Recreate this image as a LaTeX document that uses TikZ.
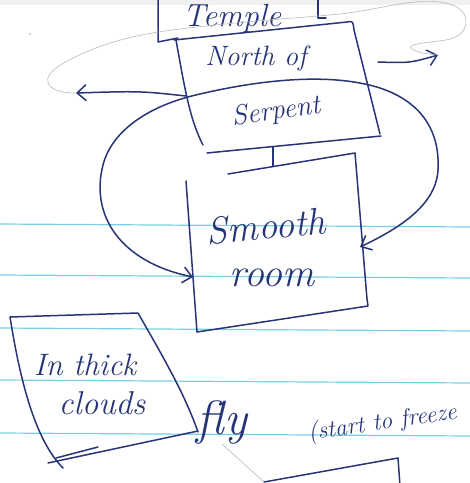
\documentclass[tikz,border=0pt]{standalone}
\usetikzlibrary{arrows.meta}
\definecolor{ink}{RGB}{38,52,120}
\definecolor{rule}{RGB}{120,208,228}
\newcommand\handsize[1]{\fontsize{#1}{#1}\selectfont\itshape}

\begin{document}
\begin{tikzpicture}[x=1pt,y=-1pt,
  pen/.style={draw=ink,line width=1.5pt,line cap=round,line join=round},
  pencil/.style={draw=gray!55,line width=0.6pt,line cap=round},
  word/.style={text=ink,inner sep=0pt},
  barb/.style={-{Straight Barb[length=9pt,width=16pt,line width=1.5pt]}}]
\useasboundingbox (0,0) rectangle (470,483);
\clip (0,0) rectangle (470,483);
% paper
\fill[gray!12] (0,0) rectangle (470,5);
\foreach \y in {224,275,328,380,433}
  \draw[rule,line width=1.2pt] (0,\y) -- (470,\y+3);
\fill[gray!50] (30,34) circle (1.2pt);
% words
\node[word,font=\handsize{32}] (temple) at (232,18) {Temple};
\node[word,font=\handsize{28}] (northof) at (256,58) {North of};
\node[word,font=\handsize{28},rotate=8] (serpent) at (276,112) {Serpent};
\node[word,font=\handsize{38},rotate=5] (smooth) at (266,226) {Smooth};
\node[word,font=\handsize{40}] (room) at (272,278) {room};
\node[word,font=\handsize{31}] (thick) at (85,365) {In thick};
\node[word,font=\handsize{33}] (clouds) at (102,403) {clouds};
\node[word,font=\handsize{48}] (fly) at (222,422) {fly};
\node[word,font=\handsize{24},rotate=8,anchor=west] (freeze) at (308,434) {(start to freeze};
% Temple box, top runs off the sheet
\draw[pen] (158,-2) -- (158,42) -- (178,38);
\draw[pen] (318,-2) -- (318,18) -- (326,18);
% North of Serpent box
\draw[pen] (174,40) -- (347,22) .. controls (353,21) .. (354,30) -- (380,134);
\draw[pen] (176,40) .. controls (185,90) and (190,120) .. (203,145);
\draw[pen] (207,153) -- (381,136);
\coordinate (nbot) at (273,146.6);
\coordinate (northw) at (186,96);
% Smooth room box
\draw[pen] (228,174) -- (355,153) -- (367,299) -- (368,306) -- (197,332) -- (186,181);
\coordinate (stop) at (273,166.6);
\coordinate (smoothw) at (193,277);
\coordinate (smoothe) at (360,247);
\draw[pen] (nbot) -- (stop);
% the big arc over the top
\draw[pen,{Straight Barb[length=9pt,width=16pt,line width=1.5pt]}-{Straight Barb[length=9pt,width=16pt,line width=1.5pt]}]
  (smoothw) .. controls (120,262) and (90,215) .. (103,165)
  .. controls (112,130) and (150,105) .. (200,94)
  .. controls (260,80) and (330,72) .. (380,88)
  .. controls (425,103) and (440,135) .. (438,170)
  .. controls (436,205) and (400,228) .. (smoothe);
% side arrows and the pencil orbit
\coordinate (westtip) at (76,93);
\coordinate (easttail) at (378,62);
\coordinate (easttip) at (438,55);
\draw[pen,barb] (northw) .. controls (140,91) .. (westtip);
\draw[pen,barb] (easttail) .. controls (410,63) .. (easttip);
\draw[pencil] (westtip) .. controls (45,93) and (38,78) .. (62,64)
  .. controls (95,45) and (130,36) .. (165,31)
  .. controls (230,22) and (300,18) .. (340,14)
  .. controls (390,8) and (425,-6) .. (455,6)
  .. controls (472,14) and (470,36) .. (446,40)
  .. controls (425,43) and (405,44) .. (412,49)
  .. controls (420,53) .. (easttip);
% In thick clouds box
\draw[pen] (10,317) -- (138,313) .. controls (165,360) and (185,395) .. (198,432);
\draw[pen] (10,317) .. controls (20,380) and (35,440) .. (63,468);
\draw[pen] (48,463) -- (198,431);
\draw[pen] (56,458) -- (98,447);
% last box, cut by the sheet edge
\coordinate (lowtl) at (264,482);
\draw[pencil] (fly.south) -- (lowtl);
\draw[pen] (lowtl) -- (398,458) -- (400,486);
\end{tikzpicture}
\end{document}
